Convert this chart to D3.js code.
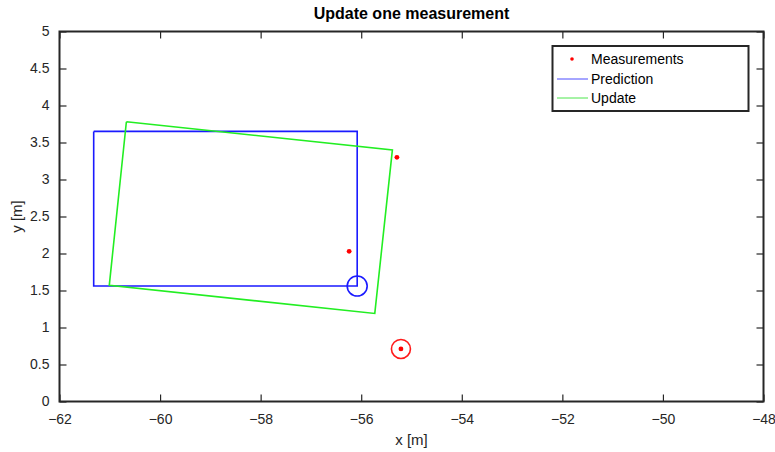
<!DOCTYPE html>
<html><head><meta charset="utf-8">
<script src="https://cdn.jsdelivr.net/npm/d3@7"></script>
<style>
body{margin:0;background:#fff;}
text{font-family:"Liberation Sans Narrow","Liberation Sans",Arial,sans-serif;}
</style></head>
<body><svg id="c" width="775" height="452"></svg>
<script>
const xTicks=[-62,-60,-58,-56,-54,-52,-50,-48];
const yTicks=[0,0.5,1,1.5,2,2.5,3,3.5,4,4.5,5];
const predictionX=[-61.32,-56.08,-56.08,-61.32,-61.32];
const predictionY=[3.65,3.65,1.56,1.56,3.65];
const updateX=[-60.67,-55.38,-55.73,-61.01,-60.67];
const updateY=[3.78,3.40,1.19,1.57,3.78];
const measX=[-55.29,-56.24,-55.21];
const measY=[3.30,2.03,0.71];
const predCircle=[-56.08,1.56];
const measCircle=[-55.21,0.71];
const legendLabels=["Measurements","Prediction","Update"];

const svg=d3.select("#c");
const L=59.5,R=763.5,T=31.5,B=401.5;
const x=d3.scaleLinear().domain([-62,-48]).range([L,R]);
const y=d3.scaleLinear().domain([0,5]).range([B,T]);
const axCol="#262626";

const g=svg.append("g");
const line=d3.line().x(d=>x(d[0])).y(d=>y(d[1]));
g.append("path").datum(predictionX.map((v,i)=>[v,predictionY[i]]))
 .attr("d",line).attr("fill","none").attr("stroke","#1a1aff").attr("stroke-width",1.6);
g.append("path").datum(updateX.map((v,i)=>[v,updateY[i]]))
 .attr("d",line).attr("fill","none").attr("stroke","#22ee22").attr("stroke-width",1.6);
g.append("circle").attr("cx",x(predCircle[0])).attr("cy",y(predCircle[1])).attr("r",10)
 .attr("fill","none").attr("stroke","#1a1aff").attr("stroke-width",1.6);
g.append("circle").attr("cx",x(measCircle[0])).attr("cy",y(measCircle[1])).attr("r",9.5)
 .attr("fill","none").attr("stroke","#ff1a1a").attr("stroke-width",1.6);
g.selectAll(".m").data(measX.map((v,i)=>[v,measY[i]])).enter().append("circle")
 .attr("cx",d=>x(d[0])).attr("cy",d=>y(d[1])).attr("r",2.4).attr("fill","#ff0000");

const xa=svg.append("g").attr("transform",`translate(0,${B})`)
 .call(d3.axisBottom(x).tickValues(xTicks).tickSizeInner(-7).tickSizeOuter(0).tickPadding(11).tickFormat(d3.format("d")));
const xt=svg.append("g").attr("transform",`translate(0,${T})`)
 .call(d3.axisTop(x).tickValues(xTicks).tickSizeInner(-7).tickSizeOuter(0).tickFormat(""));
const ya=svg.append("g").attr("transform",`translate(${L},0)`)
 .call(d3.axisLeft(y).tickValues(yTicks).tickSizeInner(-7).tickSizeOuter(0).tickPadding(10).tickFormat(d=>String(d)));
const yr=svg.append("g").attr("transform",`translate(${R},0)`)
 .call(d3.axisRight(y).tickValues(yTicks).tickSizeInner(-7).tickSizeOuter(0).tickFormat(""));
[xa,xt,ya,yr].forEach(a=>{
 a.select(".domain").remove();
 a.selectAll("line").attr("stroke",axCol).attr("stroke-width",1.2);
 a.selectAll("text").attr("fill",axCol).style("font-size","14px").style("font-family",'"Liberation Sans Narrow","Liberation Sans",Arial,sans-serif');
});
xa.selectAll("text").attr("dy","0.85em");
svg.append("rect").attr("x",L).attr("y",T).attr("width",R-L).attr("height",B-T)
 .attr("fill","none").attr("stroke",axCol).attr("stroke-width",2);

svg.append("text").attr("x",(L+R)/2).attr("y",445).attr("text-anchor","middle")
 .attr("fill",axCol).style("font-size","15px").text("x [m]");
svg.append("text").attr("transform",`translate(22,${(T+B)/2}) rotate(-90)`).attr("text-anchor","middle")
 .attr("fill",axCol).style("font-size","15px").text("y [m]");
svg.append("text").attr("x",(L+R)/2).attr("y",19).attr("text-anchor","middle")
 .attr("fill","#000").style("font-size","16px").style("font-weight","bold").text("Update one measurement");

const lg=svg.append("g");
lg.append("rect").attr("x",552.5).attr("y",46).attr("width",196).attr("height",65)
 .attr("fill","#fff").attr("stroke",axCol).attr("stroke-width",2);
const rows=[59,79,98];
lg.append("circle").attr("cx",572).attr("cy",rows[0]).attr("r",1.8).attr("fill","#ff0000");
lg.append("line").attr("x1",557).attr("x2",588).attr("y1",rows[1]).attr("y2",rows[1]).attr("stroke","#4d4dff").attr("stroke-width",1);
lg.append("line").attr("x1",557).attr("x2",588).attr("y1",rows[2]).attr("y2",rows[2]).attr("stroke","#4de64d").attr("stroke-width",1);
lg.selectAll(".lt").data(legendLabels).enter().append("text")
 .attr("x",591).attr("y",(d,i)=>rows[i]+5).attr("fill","#000").style("font-size","14px")
 .style("font-family",'"Liberation Sans",Arial,sans-serif').text(d=>d);
</script></body></html>
